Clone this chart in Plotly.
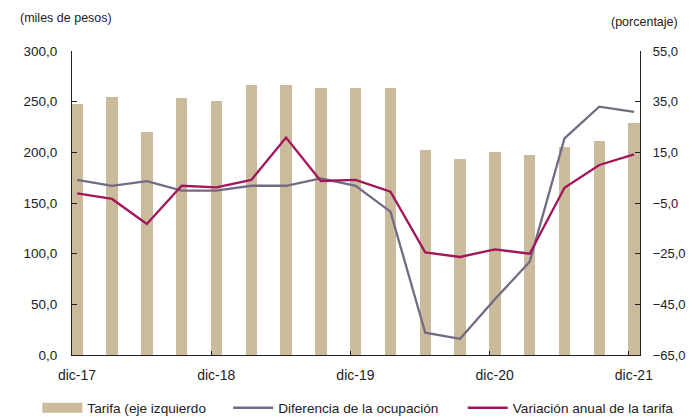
import plotly.graph_objects as go

quarters = ["dic-17", "mar-18", "jun-18", "sep-18", "dic-18", "mar-19", "jun-19", "sep-19",
            "dic-19", "mar-20", "jun-20", "sep-20", "dic-20", "mar-21", "jun-21", "sep-21", "dic-21"]
tarifa = [248, 255, 220, 254, 251, 266, 266, 263, 263, 263, 202, 193, 200, 197, 205, 211, 229]
ocupacion = [4.1, 1.8, 3.6, -0.1, -0.1, 1.8, 1.8, 4.7, 1.8, -8.4, -56.2, -58.6, -43.0, -28.2, 20.5, 33.0, 31.0]
var_tarifa = [-1.2, -3.4, -13.3, 1.8, 1.2, 4.1, 20.8, 3.7, 4.1, -0.5, -24.5, -26.3, -23.3, -25.0, 1.0, 10.0, 14.2]
label_every = 4

idx = list(range(len(quarters)))
tick_idx = [i for i in idx if i % label_every == 0]
tick_text = [quarters[i] for i in tick_idx]

FONT = "Liberation Sans, Arial, sans-serif"
BAR_C = "#CBBB9D"
GRAY_C = "#736A84"
MAG_C = "#A2155B"

fig = go.Figure()
fig.add_trace(go.Bar(x=idx, y=tarifa, name="Tarifa (eje izquierdo", marker_color=BAR_C,
                     marker_line_width=0, width=0.33, yaxis="y", showlegend=False))
# legend-only entry drawn as a wide swatch for the bars
fig.add_trace(go.Scatter(x=[None], y=[None], name="Tarifa (eje izquierdo", mode="lines",
                         line=dict(color=BAR_C, width=10), legend="legend"))
fig.add_trace(go.Scatter(x=idx, y=ocupacion, name="Diferencia de la ocupación", mode="lines",
                         line=dict(color=GRAY_C, width=2.3), yaxis="y2", legend="legend2"))
fig.add_trace(go.Scatter(x=idx, y=var_tarifa, name="Variación anual de la tarifa", mode="lines",
                         line=dict(color=MAG_C, width=2.3), yaxis="y2", legend="legend3"))

leg_common = dict(orientation="h", y=-0.123, xanchor="left", yanchor="top",
                  font=dict(size=13.6), itemwidth=40, bgcolor="rgba(0,0,0,0)")

fig.update_layout(
    width=689, height=417,
    margin=dict(l=72, r=49, t=51, b=62, autoexpand=False),
    plot_bgcolor="white", paper_bgcolor="white",
    separators=",.",
    font=dict(family=FONT, size=13, color="#222"),
    bargap=0,
    xaxis=dict(range=[-0.15, 16.17], tickvals=[i - 0.15 for i in tick_idx], ticktext=tick_text,
               ticks="inside", ticklen=4, tickcolor="#222", ticklabelshift=5, ticklabelstandoff=7,
               showline=True, linecolor="#222", linewidth=1.2, showgrid=False, zeroline=False,
               tickfont=dict(size=14), automargin=False),
    yaxis=dict(range=[0, 300], dtick=50, tickformat=".1f", ticks="inside", ticklen=5,
               tickcolor="#222", showline=True, linecolor="#222", linewidth=1.2,
               showgrid=False, zeroline=False, ticklabelstandoff=11, tickfont=dict(size=13.5),
               automargin=False),
    yaxis2=dict(range=[-65, 55], dtick=20, tick0=-65, tickformat=".1f", overlaying="y", side="right",
                ticks="inside", ticklen=5, tickcolor="#222", showline=True, linecolor="#222",
                linewidth=1.2, showgrid=False, zeroline=False, ticklabelstandoff=9,
                tickfont=dict(size=13), automargin=False),
    legend=dict(x=-0.061, **leg_common),
    legend2=dict(x=0.275, **leg_common),
    legend3=dict(x=0.688, **leg_common),
)
fig.add_annotation(text="(miles de pesos)", xref="paper", yref="paper",
                   x=-0.095, y=1.11, xanchor="left", yanchor="middle", showarrow=False,
                   font=dict(size=12.5))
fig.add_annotation(text="(porcentaje)", xref="paper", yref="paper",
                   x=1.07, y=1.095, xanchor="right", yanchor="middle", showarrow=False,
                   font=dict(size=12.5))

fig.write_html("out.html", config={"displayModeBar": False},
               post_script="document.body.style.margin='0';document.body.style.overflow='hidden';")
